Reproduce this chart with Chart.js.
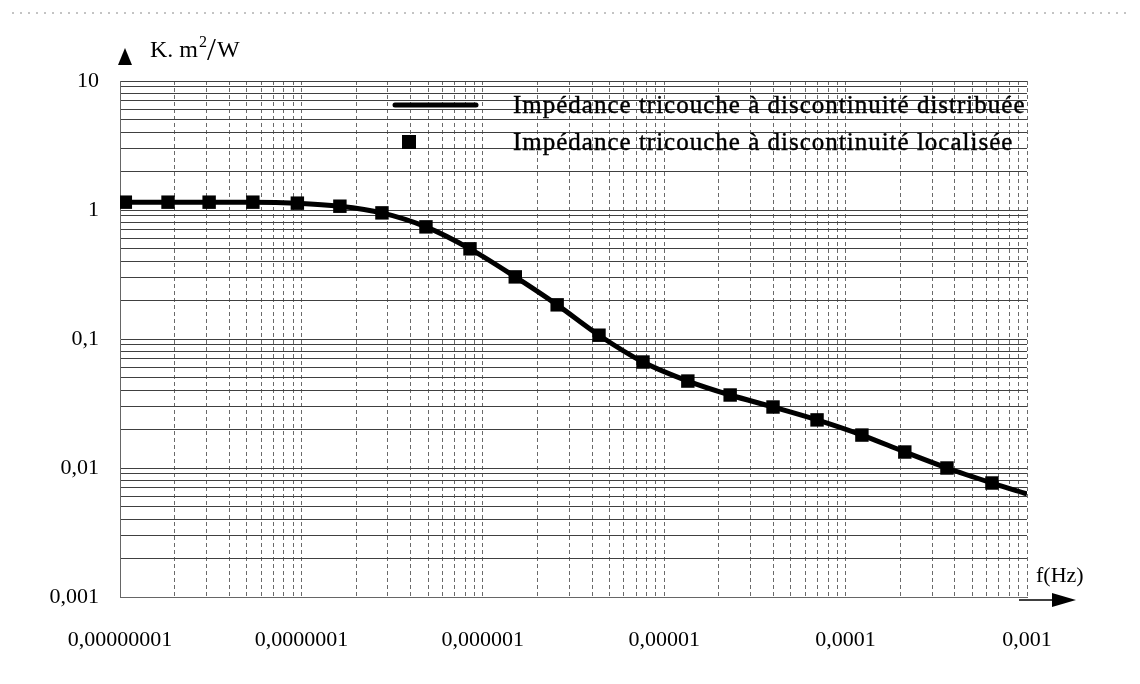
<!DOCTYPE html>
<html>
<head>
<meta charset="utf-8">
<title>Impédance tricouche</title>
<script src="https://cdn.jsdelivr.net/npm/chart.js@4.4.1/dist/chart.umd.min.js"></script>
<style>
    html, body { margin: 0; padding: 0; background: #fff; }
    #wrap { position: relative; width: 1140px; height: 684px; }
</style>
</head>
<body>
<div id="wrap"><canvas id="impedance-chart" width="1140" height="684"></canvas></div>
<script>
    "use strict";

    // Localised discontinuity (squares)
    var freqPoints = [1.07e-8, 1.84e-8, 3.1e-8, 5.4e-8, 9.5e-8, 1.63e-7, 2.78e-7, 4.86e-7, 8.5e-7,
        1.51e-6, 2.57e-6, 4.37e-6, 7.64e-6, 1.35e-5, 2.31e-5, 3.98e-5, 6.96e-5, 1.23e-4, 2.12e-4,
        3.62e-4, 6.41e-4];
    var zLocalized = [1.15, 1.15, 1.15, 1.15, 1.13, 1.07, 0.95, 0.74, 0.50,
        0.303, 0.184, 0.107, 0.0663, 0.0472, 0.0368, 0.0297, 0.0236, 0.018, 0.0133,
        0.01, 0.00765];

    // Distributed discontinuity (curve)
    var freqCurve = [1e-8, 1.84e-8, 3.1e-8, 5.4e-8, 9.5e-8, 1.63e-7, 2.78e-7, 4.86e-7, 8.5e-7,
        1.51e-6, 2.57e-6, 4.37e-6, 7.64e-6, 1.35e-5, 2.31e-5, 3.98e-5, 6.96e-5, 1.23e-4, 2.12e-4,
        3.62e-4, 6.41e-4, 1e-3];
    var zDistributed = [1.15, 1.15, 1.15, 1.15, 1.13, 1.07, 0.95, 0.74, 0.50,
        0.303, 0.184, 0.107, 0.0663, 0.0472, 0.0368, 0.0297, 0.0236, 0.018, 0.0133,
        0.01, 0.00765, 0.0063];

    var xTickLabels = ["0,00000001", "0,0000001", "0,000001", "0,00001", "0,0001", "0,001"];
    var yTickLabels = ["0,001", "0,01", "0,1", "1", "10"];
    var legendLabels = ["Impédance tricouche à discontinuité distribuée",
        "Impédance tricouche à discontinuité localisée"];

    var serif = "'Liberation Serif', 'DejaVu Serif', serif";

    function toXY(xs, ys) {
        return xs.map(function (x, i) { return {x: x, y: ys[i]}; });
    }

    // 1..9 x 10^n gridlines, no 1.5 ticks
    function logTicks(minExp, maxExp) {
        return function (scale) {
            var ticks = [];
            for (var e = minExp; e < maxExp; e++) {
                for (var s = 1; s < 10; s++) {
                    ticks.push({value: s * Math.pow(10, e)});
                }
            }
            ticks.push({value: Math.pow(10, maxExp)});
            scale.ticks = ticks;
        };
    }

    function decadeLabel(labels, minExp) {
        return function (value) {
            var e = Math.log10(value);
            var r = Math.round(e);
            if (Math.abs(e - r) > 1e-6) return "";
            return labels[r - minExp] || "";
        };
    }

    // Axis arrows, axis titles, legend, scan border
    var decorations = {
        id: "decorations",
        afterDraw: function (chart) {
            var ctx = chart.ctx;
            var area = chart.chartArea;
            ctx.save();

            // faint scan border at the top
            ctx.strokeStyle = "#888";
            ctx.lineWidth = 1;
            ctx.setLineDash([2, 6]);
            ctx.beginPath();
            ctx.moveTo(12, 13);
            ctx.lineTo(1128, 13);
            ctx.stroke();
            ctx.setLineDash([]);

            ctx.fillStyle = "#000";
            ctx.strokeStyle = "#000";

            // y axis arrow + unit
            ctx.beginPath();
            ctx.moveTo(125, 48);
            ctx.lineTo(132, 65);
            ctx.lineTo(118, 65);
            ctx.closePath();
            ctx.fill();

            ctx.textBaseline = "alphabetic";
            ctx.textAlign = "left";
            ctx.font = "24px " + serif;
            ctx.fillText("K. m", 150, 57);
            var w = ctx.measureText("K. m").width;
            ctx.font = "16px " + serif;
            ctx.fillText("2", 150 + w + 1, 47);
            ctx.font = "32px " + serif;
            ctx.fillText("/", 150 + w + 9, 60);
            ctx.font = "24px " + serif;
            ctx.fillText("W", 150 + w + 19, 57);

            // x axis arrow + unit
            ctx.lineWidth = 1.5;
            ctx.beginPath();
            ctx.moveTo(area.right - 8, area.bottom + 3);
            ctx.lineTo(1055, area.bottom + 3);
            ctx.stroke();
            ctx.beginPath();
            ctx.moveTo(1076, area.bottom + 3);
            ctx.lineTo(1052, area.bottom - 4);
            ctx.lineTo(1052, area.bottom + 10);
            ctx.closePath();
            ctx.fill();

            ctx.font = "22px " + serif;
            ctx.textBaseline = "middle";
            ctx.fillText("f(Hz)", 1036, 576);

            // legend inside the plot
            ctx.lineWidth = 5;
            ctx.lineCap = "round";
            ctx.beginPath();
            ctx.moveTo(395, 105);
            ctx.lineTo(476, 105);
            ctx.stroke();
            ctx.fillRect(402, 135, 14, 14);

            ctx.font = "25px " + serif;
            ctx.letterSpacing = "1px";
            ctx.lineWidth = 0.4;
            ctx.fillText(legendLabels[0], 513, 106);
            ctx.strokeText(legendLabels[0], 513, 106);
            ctx.fillText(legendLabels[1], 513, 143);
            ctx.strokeText(legendLabels[1], 513, 143);
            ctx.restore();
        }
    };

    var ctx1 = document.getElementById("impedance-chart").getContext("2d");
    var myChart1 = new Chart(ctx1, {
        type: "line",
        data: {
            datasets: [{
                    label: legendLabels[0],
                    data: toXY(freqCurve, zDistributed),
                    borderColor: "#000",
                    borderWidth: 5,
                    pointRadius: 0,
                    tension: 0.4,
                    cubicInterpolationMode: "monotone",
                    fill: false,
                    order: 2
                },
                {
                    label: legendLabels[1],
                    data: toXY(freqPoints, zLocalized),
                    showLine: false,
                    pointStyle: "rect",
                    pointRadius: 9.5,
                    backgroundColor: "#000",
                    borderColor: "#000",
                    borderWidth: 0,
                    order: 1
                }
            ]
        },
        options: {
            responsive: false,
            animation: false,
            layout: {padding: {top: 81, right: 113, bottom: 0, left: 0}},
            plugins: {
                legend: {display: false},
                tooltip: {enabled: false}
            },
            scales: {
                x: {
                    type: "logarithmic",
                    min: 1e-8,
                    max: 1e-3,
                    afterBuildTicks: logTicks(-8, -3),
                    afterFit: function (scale) { scale.height = 87; },
                    ticks: {
                        autoSkip: false,
                        maxRotation: 0,
                        padding: 30,
                        color: "#000",
                        font: {family: serif, size: 22},
                        callback: decadeLabel(xTickLabels, -8)
                    },
                    grid: {color: "#6a6a6a", lineWidth: 1, drawTicks: false},
                    border: {display: true, color: "#666", dash: [4, 3]}
                },
                y: {
                    type: "logarithmic",
                    min: 1e-3,
                    max: 10,
                    afterBuildTicks: logTicks(-3, 1),
                    afterFit: function (scale) { scale.width = 120; },
                    ticks: {
                        autoSkip: false,
                        padding: 21,
                        color: "#000",
                        font: {family: serif, size: 22},
                        callback: decadeLabel(yTickLabels, -3)
                    },
                    grid: {color: "#404040", lineWidth: 1, drawTicks: false},
                    border: {display: true, color: "#666"}
                }
            }
        },
        plugins: [decorations]
    });
</script>
</body>
</html>
